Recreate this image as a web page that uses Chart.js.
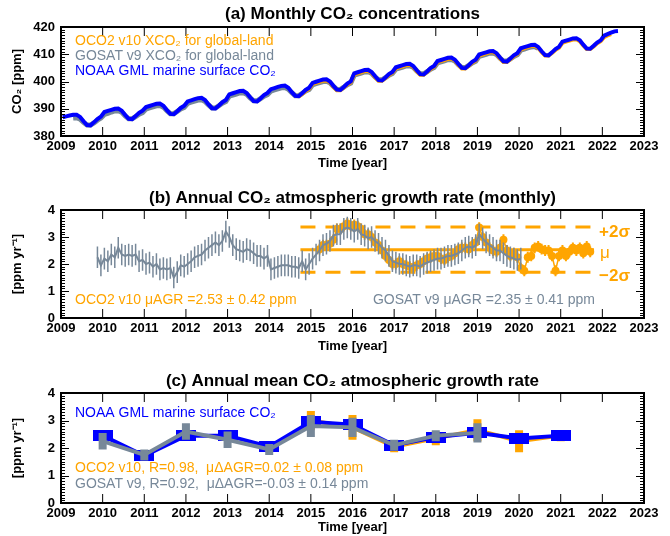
<!DOCTYPE html>
<html>
<head>
<meta charset="utf-8">
<script src="https://cdn.jsdelivr.net/npm/chart.js@4.4.1/dist/chart.umd.min.js"></script>
<style>
  body { margin: 0; background: #fff; width: 670px; height: 536px; position: relative; overflow: hidden; }
  .panel { position: absolute; left: 0; width: 670px; }
</style>
</head>
<body>
<div class="panel" style="top:0;height:172px"><canvas id="chartA"></canvas></div>
<div class="panel" style="top:180px;height:175px"><canvas id="chartB"></canvas></div>
<div class="panel" style="top:362px;height:174px"><canvas id="chartC"></canvas></div>
<script>
const FONT = '"Liberation Sans", Arial, Helvetica, sans-serif';
const ORANGE = '#FFA500';
const GRAY = '#778899';
const BLUE = '#0000FF';

// (a) monthly CO2 [ppm], one value per month starting at the given month
const noaaStart = 2009 + 0.5 / 12;   // Jan 2009
const noaaCO2 = [
  386.9, 387.2, 387.5, 387.8, 387.8, 387.0, 385.4, 384.0, 383.9, 385.0, 386.2, 387.1,
  388.8, 389.2, 389.6, 390.0, 390.1, 389.3, 387.7, 386.3, 386.2, 387.3, 388.5, 389.3,
  390.6, 391.0, 391.4, 391.8, 391.9, 391.1, 389.5, 388.1, 388.0, 389.1, 390.3, 391.1,
  392.7, 393.1, 393.5, 393.9, 394.0, 393.2, 391.6, 390.2, 390.1, 391.2, 392.4, 393.2,
  395.3, 395.7, 396.1, 396.5, 396.6, 395.8, 394.2, 392.8, 392.7, 393.8, 395.0, 395.8,
  397.2, 397.6, 398.0, 398.4, 398.5, 397.7, 396.1, 394.7, 394.6, 395.7, 396.9, 397.7,
  399.5, 399.9, 400.3, 400.7, 400.8, 400.0, 398.4, 397.0, 396.9, 398.0, 399.2, 400.0,
  403.0, 403.4, 403.8, 404.2, 404.3, 403.5, 401.9, 400.5, 400.4, 401.5, 402.7, 403.5,
  405.2, 405.6, 406.0, 406.4, 406.5, 405.7, 404.1, 402.7, 402.6, 403.7, 404.9, 405.7,
  407.5, 407.9, 408.3, 408.7, 408.8, 408.0, 406.4, 405.0, 404.9, 406.0, 407.2, 408.0,
  409.9, 410.3, 410.7, 411.1, 411.2, 410.4, 408.8, 407.4, 407.3, 408.4, 409.6, 410.4,
  412.2, 412.6, 413.0, 413.4, 413.5, 412.7, 411.1, 409.7, 409.6, 410.7, 411.9, 412.7,
  414.6, 415.0, 415.4, 415.8, 415.9, 415.1, 413.5, 412.1, 412.0, 413.1, 414.3, 415.1,
  416.8, 417.4, 417.9, 418.4, 418.5
];
const gosatStart = 2009 + 3.5 / 12;  // Apr 2009
const gosatCO2 = [
  386.6, 386.7, 386.2, 385.0, 384.0, 384.0, 384.8, 385.8, 386.6,
  387.9, 388.3, 388.8, 389.2, 389.3, 388.7, 387.4, 386.3, 386.3, 387.1, 388.0, 388.6,
  389.9, 390.3, 390.7, 391.1, 391.2, 390.6, 389.3, 388.2, 388.2, 389.0, 389.9, 390.5,
  392.0, 392.4, 392.8, 393.2, 393.3, 392.7, 391.4, 390.3, 390.3, 391.1, 392.0, 392.6,
  394.6, 395.0, 395.4, 395.8, 395.9, 395.3, 394.0, 392.9, 392.9, 393.7, 394.6, 395.2,
  396.5, 396.9, 397.3, 397.7, 397.8, 397.2, 395.9, 394.8, 394.8, 395.6, 396.5, 397.1,
  398.8, 399.2, 399.6, 400.0, 400.1, 399.5, 398.2, 397.1, 397.1, 397.9, 398.8, 399.4,
  402.3, 402.7, 403.1, 403.5, 403.6, 403.0, 401.7, 400.6, 400.6, 401.4, 402.3, 402.9,
  404.5, 404.9, 405.3, 405.7, 405.8, 405.2, 403.9, 402.8, 402.8, 403.6, 404.5, 405.1,
  406.8, 407.2, 407.6, 408.0, 408.1, 407.5, 406.2, 405.1, 405.1, 405.9, 406.8, 407.4,
  409.2, 409.6, 410.0, 410.4, 410.5, 409.9, 408.6, 407.5, 407.5, 408.3, 409.2, 409.8,
  411.5, 411.9, 412.3, 412.7, 412.8, 412.2
];
const oco2Start = 2014 + 8.5 / 12;   // Sep 2014
const oco2CO2 = [
  394.4, 395.4, 396.5, 397.3,
  399.1, 399.5, 399.9, 400.3, 400.4, 399.7, 398.1, 396.8, 396.8, 397.8, 398.9, 399.7,
  402.6, 403.0, 403.4, 403.8, 403.9, 403.2, 401.6, 400.3, 400.3, 401.3, 402.4, 403.2,
  404.8, 405.2, 405.6, 406.0, 406.1, 405.4, 403.8, 402.5, 402.5, 403.5, 404.6, 405.4,
  407.1, 407.5, 407.9, 408.3, 408.4, 407.7, 406.1, 404.8, 404.8, 405.8, 406.9, 407.7,
  409.5, 409.9, 410.3, 410.7, 410.8, 410.1, 408.5, 407.2, 407.2, 408.2, 409.3, 410.1,
  411.8, 412.2, 412.6, 413.0, 413.1, 412.4, 410.8, 409.5, 409.5, 410.5, 411.6, 412.4,
  414.2, 414.6, 415.0, 415.4, 415.5, 414.8, 413.2, 411.9, 411.9, 412.9, 414.0, 414.8,
  416.3, 416.9, 417.4
];

// (b) monthly annual growth rate [ppm/yr]
const gosatAgrStart = 2009 + 10.5 / 12;  // Nov 2009
const gosatAGR = [
  2.25, 1.95,
  2.2, 2.1, 2.35, 2.25, 2.6, 2.35, 2.3, 2.35, 2.3, 2.35, 2.1, 2.15,
  2.0, 2.05, 1.9, 2.0, 1.8, 1.85, 1.8, 1.85, 1.5, 1.7, 1.95, 1.9,
  2.0, 2.1, 2.25, 2.3, 2.35, 2.5, 2.6, 2.7, 2.8, 2.7, 2.85, 3.2,
  3.0, 2.7, 2.55, 2.5, 2.45, 2.55, 2.5, 2.4, 2.3, 2.3, 2.2, 2.3,
  1.8, 1.85, 1.9, 1.95, 1.95, 1.95, 1.9, 1.9, 1.85, 2.1, 1.8, 2.0,
  2.2, 2.35, 2.5, 2.7, 2.75, 2.85, 3.05, 3.1, 3.1, 3.3, 3.35, 3.3,
  3.2, 3.3, 3.1, 3.05, 2.95, 3.0, 2.85, 2.75, 2.6, 2.5, 2.3, 2.1,
  2.05, 2.0, 2.0, 1.95, 1.9, 1.95, 1.95, 1.9, 2.0, 2.05, 2.1, 2.15,
  2.2, 2.2, 2.25, 2.3, 2.3, 2.35, 2.4, 2.5, 2.6, 2.65, 2.6, 2.7,
  3.1, 2.95, 2.8, 2.7, 2.6, 2.5, 2.5, 2.4, 2.3, 2.25, 2.2, 2.15,
  2.2
];
const gosatAgrErr = 0.4;
const oco2AgrStart = 2015 + 2.5 / 12;   // Mar 2015
const oco2AGR = [
  2.55, 2.7, 2.7, 2.75, 2.9, 3.3, 3.3, 3.4, 3.5, 3.4,
  3.45, 3.4, 3.3, 3.1, 3.1, 3.0, 2.8, 2.7, 2.5, 2.3, 2.15, 2.0,
  2.0, 2.1, 2.0, 1.95, 1.9, 1.85, 1.95, 2.0, 2.1, 2.2, 2.25, 2.3,
  2.3, 2.2, 2.15, 2.25, 2.3, 2.4, 2.55, 2.6, 2.6, 2.55, 2.7, 2.8,
  3.35, 3.0, 2.8, 2.6, 2.5, 2.45, 2.6, 2.9, 2.5, 2.3, 2.4, 2.25,
  1.85, 1.75, 2.25, 2.3, 2.6, 2.65, 2.55, 2.5, 2.5, 2.3, 1.75, 2.3,
  2.5, 2.3, 2.45, 2.6, 2.5, 2.6, 2.4, 2.65, 2.45
];
const oco2AgrErr = 0.2;
const oco2Mean = 2.53, oco2Sigma = 0.42;
const statRange = [2014.75, 2021.8];

// (c) annual mean growth rate [ppm/yr]
const noaaYears = [2010, 2011, 2012, 2013, 2014, 2015, 2016, 2017, 2018, 2019, 2020, 2021];
const noaaAnnual = [2.45, 1.72, 2.45, 2.45, 2.05, 2.95, 2.85, 2.1, 2.4, 2.55, 2.35, 2.45];
const gosatYears = [2010, 2011, 2012, 2013, 2014, 2015, 2016, 2017, 2018, 2019];
const gosatAnnual = [2.25, 1.75, 2.6, 2.3, 1.95, 2.8, 2.75, 2.1, 2.45, 2.55];
const gosatAnnualErr = [0.3, 0.2, 0.3, 0.3, 0.2, 0.4, 0.35, 0.2, 0.2, 0.35];
const oco2Years = [2015, 2016, 2017, 2018, 2019, 2020, 2021];
const oco2Annual = [3.0, 2.75, 2.05, 2.35, 2.65, 2.25, 2.45];
const oco2AnnualErr = [0.35, 0.45, 0.2, 0.25, 0.4, 0.4, 0.2];

function monthly(start, values) {
  return values.map((v, i) => ({x: start + i / 12, y: v}));
}
function annual(years, values) {
  return years.map((yr, i) => ({x: yr, y: values[i]}));
}

Chart.defaults.font.family = FONT;
Chart.defaults.color = '#000';

// inward IDL-style ticks and box
const frameTicks = {
  id: 'frameTicks',
  afterDraw(chart) {
    const {ctx, chartArea: a, scales: {x, y}} = chart;
    const minor = chart.options.yMinor, major = chart.options.yMajor;
    ctx.save();
    ctx.strokeStyle = '#000';
    ctx.lineWidth = 1;
    ctx.beginPath();
    x.ticks.forEach(t => {
      const px = x.getPixelForValue(t.value);
      ctx.moveTo(px, a.bottom); ctx.lineTo(px, a.bottom - 9);
      ctx.moveTo(px, a.top); ctx.lineTo(px, a.top + 9);
    });
    const n = Math.round((y.max - y.min) / minor);
    for (let i = 0; i <= n; i++) {
      const v = y.min + i * minor;
      const py = Math.round(y.getPixelForValue(v)) + 0.5;
      const len = (i % Math.round(major / minor) === 0) ? 8 : 4;
      ctx.moveTo(a.left, py); ctx.lineTo(a.left + len, py);
      ctx.moveTo(a.right, py); ctx.lineTo(a.right - len, py);
    }
    ctx.stroke();
    ctx.lineWidth = 2;
    ctx.strokeRect(a.left, a.top, a.right - a.left, a.bottom - a.top);
    ctx.restore();
  }
};

// vertical error bars from dataset.errors
const errorBars = {
  id: 'errorBars',
  afterDatasetDraw(chart, args) {
    const ds = chart.data.datasets[args.index];
    if (ds.errors === undefined) return;
    const {ctx, chartArea: a, scales: {y}} = chart;
    ctx.save();
    ctx.beginPath();
    ctx.rect(a.left, a.top, a.right - a.left, a.bottom - a.top);
    ctx.clip();
    ctx.strokeStyle = ds.errorColor;
    ctx.lineWidth = ds.errorWidth;
    ctx.beginPath();
    args.meta.data.forEach((pt, i) => {
      const d = ds.data[i];
      const e = Array.isArray(ds.errors) ? ds.errors[i] : ds.errors;
      ctx.moveTo(pt.x, y.getPixelForValue(d.y - e));
      ctx.lineTo(pt.x, y.getPixelForValue(d.y + e));
    });
    ctx.stroke();
    ctx.restore();
  }
};

function makeNotes(title, titleY, items) {
  return {
    id: 'notes',
    afterDraw(chart) {
      const {ctx, chartArea: a} = chart;
      ctx.save();
      ctx.textBaseline = 'middle';
      ctx.font = 'bold 17px ' + FONT;
      ctx.fillStyle = '#000';
      ctx.textAlign = 'center';
      ctx.fillText(title, (a.left + a.right) / 2, titleY);
      items.forEach(n => {
        ctx.font = n.font || ('14px ' + FONT);
        ctx.fillStyle = n.color;
        ctx.textAlign = n.align || 'left';
        ctx.fillText(n.text, n.x, n.y);
      });
      ctx.restore();
    }
  };
}

function panelOptions(o) {
  return {
    responsive: true,
    maintainAspectRatio: false,
    animation: false,
    yMinor: o.yMinor,
    yMajor: o.yStep,
    layout: {padding: {top: o.padTop, right: 26, left: 0, bottom: 0}},
    plugins: {legend: {display: false}, tooltip: {enabled: false}},
    elements: {line: {tension: 0}, point: {radius: 0}},
    scales: {
      x: {
        type: 'linear', min: 2009, max: 2023,
        grid: {display: false, drawTicks: false},
        border: {display: false},
        ticks: {stepSize: 1, padding: 3, font: {size: 13, weight: 'bold'}, callback: v => String(v), maxRotation: 0},
        title: {display: true, text: 'Time [year]', font: {size: 13, weight: 'bold'}, padding: {top: 0, bottom: 1}},
        afterFit: s => { s.height = o.xHeight; }
      },
      y: {
        min: o.yMin, max: o.yMax,
        grid: {display: false, drawTicks: false},
        border: {display: false},
        ticks: {stepSize: o.yStep, padding: 6, font: {size: 13, weight: 'bold'}, callback: v => String(v)},
        title: {display: true, text: o.yTitle, font: {size: 13, weight: 'bold'}, padding: {top: 10, bottom: 0}},
        afterFit: s => { s.width = 61; }
      }
    }
  };
}

// (a)
new Chart(document.getElementById('chartA'), {
  type: 'line',
  data: {
    datasets: [
      {data: monthly(noaaStart, noaaCO2), borderColor: BLUE, borderWidth: 4},
      {data: monthly(oco2Start, oco2CO2), borderColor: ORANGE, borderWidth: 4},
      {data: monthly(gosatStart, gosatCO2), borderColor: GRAY, borderWidth: 5}
    ]
  },
  options: panelOptions({padTop: 27, xHeight: 36, yMin: 380, yMax: 420, yStep: 10, yMinor: 1, yTitle: 'CO\u2082 [ppm]'}),
  plugins: [frameTicks, makeNotes('(a) Monthly CO\u2082 concentrations', 14, [
    {text: 'OCO2 v10 XCO\u2082 for global-land', x: 75, y: 41, color: ORANGE},
    {text: 'GOSAT v9 XCO\u2082 for global-land', x: 75, y: 56, color: GRAY},
    {text: 'NOAA GML marine surface CO\u2082', x: 75, y: 71, color: BLUE}
  ])]
});

// (b)
new Chart(document.getElementById('chartB'), {
  type: 'line',
  data: {
    datasets: [
      {data: monthly(gosatAgrStart, gosatAGR), borderColor: GRAY, borderWidth: 2,
       errors: gosatAgrErr, errorColor: GRAY, errorWidth: 1.5},
      {data: monthly(oco2AgrStart, oco2AGR), borderColor: ORANGE, borderWidth: 1.5,
       pointRadius: 4, pointBackgroundColor: ORANGE, pointBorderWidth: 0,
       errors: oco2AgrErr, errorColor: ORANGE, errorWidth: 2},
      {data: statRange.map(x => ({x, y: oco2Mean})), borderColor: ORANGE, borderWidth: 3},
      {data: statRange.map(x => ({x, y: oco2Mean + 2 * oco2Sigma})), borderColor: ORANGE, borderWidth: 3, borderDash: [15, 10]},
      {data: statRange.map(x => ({x, y: oco2Mean - 2 * oco2Sigma})), borderColor: ORANGE, borderWidth: 3, borderDash: [15, 10]}
    ]
  },
  options: panelOptions({padTop: 30, xHeight: 37, yMin: 0, yMax: 4, yStep: 1, yMinor: 0.1, yTitle: '[ppm yr\u207B\u00B9]'}),
  plugins: [frameTicks, errorBars, makeNotes('(b) Annual CO\u2082 atmospheric growth rate (monthly)', 18, [
    {text: '+2\u03C3', x: 599, y: 52, color: ORANGE, font: 'bold 17px ' + FONT},
    {text: '\u03BC', x: 600, y: 73, color: ORANGE, font: '17px ' + FONT},
    {text: '\u22122\u03C3', x: 599, y: 96, color: ORANGE, font: 'bold 17px ' + FONT},
    {text: 'OCO2 v10 \u03BCAGR =2.53 \u00B1 0.42 ppm', x: 75, y: 120, color: ORANGE},
    {text: 'GOSAT v9 \u03BCAGR =2.35 \u00B1 0.41 ppm', x: 595, y: 120, color: GRAY, align: 'right'}
  ])]
});

// (c)
const rectMarker = document.createElement('canvas');
rectMarker.width = 20; rectMarker.height = 11;
const rctx = rectMarker.getContext('2d');
rctx.fillStyle = BLUE;
rctx.fillRect(0, 0, 20, 11);

new Chart(document.getElementById('chartC'), {
  type: 'line',
  data: {
    datasets: [
      {data: annual(gosatYears, gosatAnnual), borderColor: GRAY, borderWidth: 4,
       errors: gosatAnnualErr, errorColor: GRAY, errorWidth: 8},
      {data: annual(noaaYears, noaaAnnual), borderColor: BLUE, borderWidth: 4,
       pointStyle: rectMarker, pointRadius: 10},
      {data: annual(oco2Years, oco2Annual), borderColor: ORANGE, borderWidth: 4,
       errors: oco2AnnualErr, errorColor: ORANGE, errorWidth: 8}
    ]
  },
  options: panelOptions({padTop: 31, xHeight: 33, yMin: 0, yMax: 4, yStep: 1, yMinor: 0.1, yTitle: '[ppm yr\u207B\u00B9]'}),
  plugins: [frameTicks, errorBars, makeNotes('(c) Annual mean CO\u2082 atmospheric growth rate', 19, [
    {text: 'NOAA GML marine surface CO\u2082', x: 75, y: 51, color: BLUE},
    {text: 'OCO2 v10, R=0.98,  \u03BC\u0394AGR=0.02 \u00B1 0.08 ppm', x: 75, y: 106, color: ORANGE},
    {text: 'GOSAT v9, R=0.92,  \u03BC\u0394AGR=-0.03 \u00B1 0.14 ppm', x: 75, y: 122, color: GRAY}
  ])]
});
</script>
</body>
</html>
